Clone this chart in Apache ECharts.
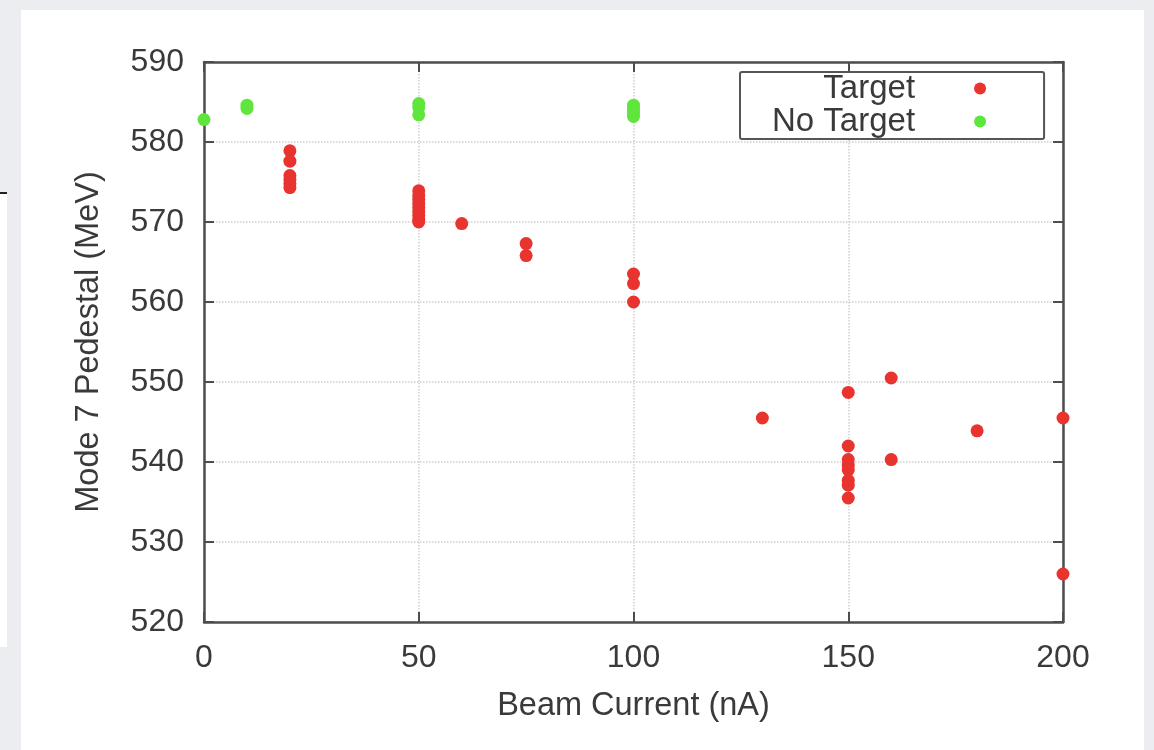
<!DOCTYPE html>
<html>
<head>
<meta charset="utf-8">
<title>Mode 7 Pedestal vs Beam Current</title>
<script src="https://cdn.jsdelivr.net/npm/echarts@6/dist/echarts.min.js"></script>
<style>
  html, body { margin: 0; padding: 0; }
  body { width: 1154px; height: 750px; background: #ebedf1; position: relative; overflow: hidden; }
  #card { position: absolute; left: 21px; top: 10px; width: 1123px; height: 740px; background: #fff; }
  #edge { position: absolute; left: 0; top: 192px; width: 7px; height: 453px; background: #fff; border-top: 2px solid #222; }
  #chart { position: absolute; left: 0; top: 0; width: 1154px; height: 750px; }
</style>
</head>
<body>
<div id="edge"></div>
<div id="card"></div>
<div id="chart"></div>
<script>
const targetCurrent = [
  20, 20, 20, 20, 20, 20,
  50, 50, 50, 50, 50, 50, 50, 50, 50,
  60, 75, 75, 100, 100, 100,
  130, 150, 150, 150, 150, 150, 150, 150, 150,
  160, 160, 180, 200, 200,
];
const targetPedestal = [
  578.9, 577.6, 575.8, 575.3, 574.8, 574.3,
  573.9, 573.3, 572.8, 572.3, 571.8, 571.3, 570.8, 570.3, 570.0,
  569.8, 567.3, 565.8, 563.5, 562.3, 560.0,
  545.5, 548.7, 542.0, 540.3, 539.6, 539.0, 537.7, 537.1, 535.5,
  550.5, 540.3, 543.9, 545.5, 526.0,
];
const noTargetCurrent = [0, 10, 10, 50, 50, 50, 100, 100, 100, 100];
const noTargetPedestal = [582.8, 584.6, 584.2, 584.8, 584.3, 583.4, 584.6, 584.1, 583.6, 583.2];

const xTicks = { min: 0, max: 200, interval: 50 };
const yTicks = { min: 520, max: 590, interval: 10 };

const FONT = 'Liberation Sans, Arial, sans-serif';
const TEXT_COLOR = '#3a3a3a';
const AXIS_COLOR = '#4d4d4d';
const GRID_COLOR = '#cfcfcf';

const zip = (xs, ys) => xs.map((x, i) => [x, ys[i]]);

const chart = echarts.init(document.getElementById('chart'));

const axisLine = { show: true, onZero: false, lineStyle: { color: AXIS_COLOR, width: 2.5 } };
const axisTick = { show: true, inside: true, length: 10, lineStyle: { color: AXIS_COLOR, width: 2 } };

// mirror axes on top/right only carry the frame and the inward ticks
const option = {
  backgroundColor: 'transparent',
  animation: false,
  grid: { left: 204, top: 62, right: 91, bottom: 128 },
  legend: {
    orient: 'vertical',
    left: 740,
    top: 72,
    align: 'right',
    icon: 'circle',
    itemWidth: 120,
    itemHeight: 12,
    itemGap: 0,
    padding: [0, 58, 1, 32],
    borderColor: '#555',
    borderWidth: 2,
    borderRadius: 2,
    backgroundColor: '#fff',
    textStyle: { fontFamily: FONT, fontSize: 33, color: TEXT_COLOR },
    data: ['Target', 'No Target'],
  },
  xAxis: [
    {
      type: 'value',
      ...xTicks,
      name: 'Beam Current (nA)',
      nameLocation: 'middle',
      nameGap: 68,
      nameTextStyle: { fontFamily: FONT, fontSize: 32.5, color: TEXT_COLOR },
      axisLine,
      axisTick,
      axisLabel: { fontFamily: FONT, fontSize: 32, color: TEXT_COLOR, margin: 20 },
      splitLine: { show: true, lineStyle: { color: GRID_COLOR, type: 'dotted', width: 1.5 } },
    },
    {
      type: 'value',
      position: 'top',
      ...xTicks,
      axisLine,
      axisTick,
      axisLabel: { show: false },
      splitLine: { show: false },
    },
  ],
  yAxis: [
    {
      type: 'value',
      ...yTicks,
      name: 'Mode 7 Pedestal (MeV)',
      nameLocation: 'middle',
      nameGap: 98,
      nameTextStyle: { fontFamily: FONT, fontSize: 32.5, color: TEXT_COLOR },
      axisLine,
      axisTick,
      axisLabel: { fontFamily: FONT, fontSize: 32, color: TEXT_COLOR, margin: 20 },
      splitLine: { show: true, lineStyle: { color: GRID_COLOR, type: 'dotted', width: 1.5 } },
    },
    {
      type: 'value',
      position: 'right',
      ...yTicks,
      axisLine,
      axisTick,
      axisLabel: { show: false },
      splitLine: { show: false },
    },
  ],
  series: [
    {
      name: 'Target',
      type: 'scatter',
      symbol: 'circle',
      symbolSize: 13,
      itemStyle: { color: '#e8332e', opacity: 1 },
      data: zip(targetCurrent, targetPedestal),
      z: 3,
    },
    {
      name: 'No Target',
      type: 'scatter',
      symbol: 'circle',
      symbolSize: 13,
      itemStyle: { color: '#5fe63d', opacity: 1 },
      data: zip(noTargetCurrent, noTargetPedestal),
      z: 3,
    },
  ],
};

chart.setOption(option);
</script>
</body>
</html>
